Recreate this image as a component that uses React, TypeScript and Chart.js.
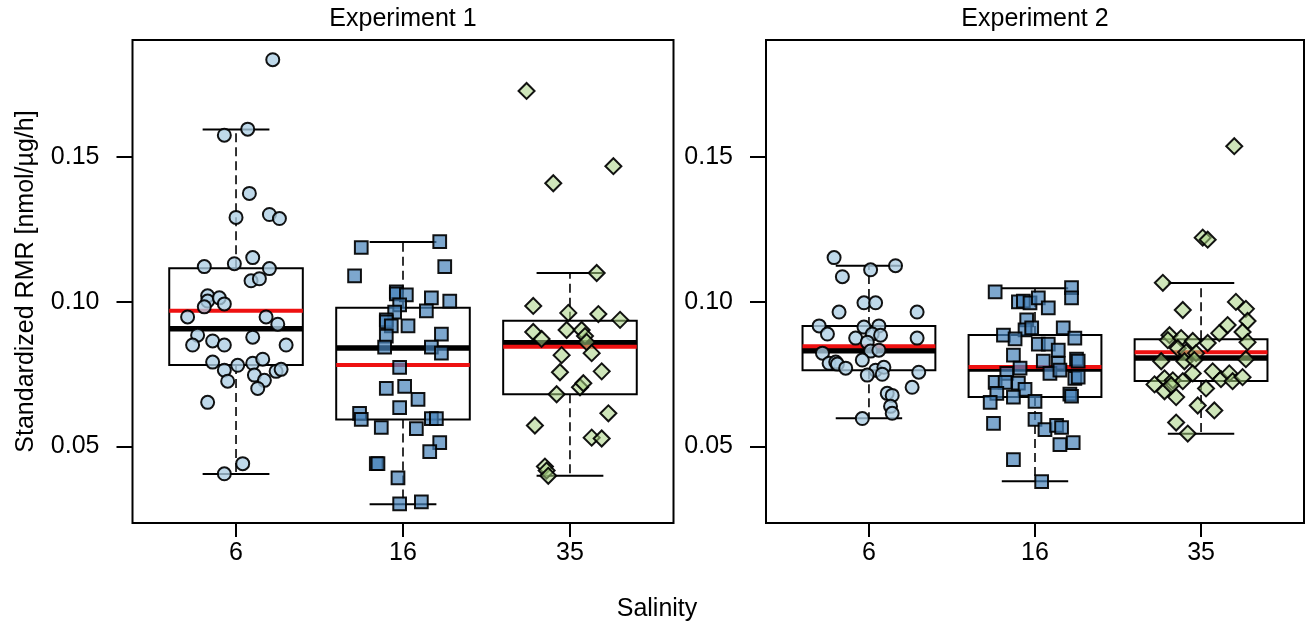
import React, { useEffect, useRef } from 'react';
import { Chart, registerables } from 'chart.js';

Chart.register(...registerables);

// ---------- labels ----------
const salinityLabels = ['6', '16', '35'];
const categoryPositions = [1, 2, 3];
const yTickValues = [0.05, 0.1, 0.15];
const panelTitles = ['Experiment 1', 'Experiment 2'];
const yAxisTitle = 'Standardized RMR [nmol/µg/h]';
const xAxisTitle = 'Salinity';

// ---------- Experiment 1: individual values and horizontal jitter ----------
const exp1Sal6Values = [0.1837, 0.1576, 0.1597, 0.1375, 0.1292, 0.1302, 0.1288, 0.1153, 0.1122, 0.1132, 0.1115, 0.1073, 0.108, 0.1021, 0.1003, 0.1014, 0.0993, 0.0983, 0.0948, 0.0948, 0.0923, 0.0885, 0.0851, 0.0865, 0.0851, 0.0878, 0.0851, 0.0792, 0.0764, 0.0781, 0.0788, 0.0802, 0.076, 0.0767, 0.0726, 0.0747, 0.0729, 0.0701, 0.0653, 0.0441, 0.0406];
const exp1Sal6Jitter = [0.22, -0.07, 0.07, 0.08, 0.0, 0.2, 0.26, 0.1, -0.19, -0.01, 0.2, 0.09, 0.14, -0.17, -0.17, -0.1, -0.07, -0.19, -0.29, 0.18, 0.25, -0.23, -0.26, -0.14, -0.07, 0.1, 0.3, -0.14, -0.07, 0.01, 0.1, 0.16, 0.24, 0.27, -0.05, 0.11, 0.17, 0.13, -0.17, 0.04, -0.07];

const exp1Sal16Values = [0.1188, 0.1208, 0.109, 0.1122, 0.1035, 0.1028, 0.1024, 0.099, 0.1014, 0.1003, 0.0969, 0.0965, 0.0938, 0.0931, 0.0917, 0.0917, 0.0882, 0.0889, 0.0844, 0.0844, 0.0823, 0.0774, 0.0701, 0.0708, 0.0663, 0.0635, 0.0615, 0.0594, 0.0566, 0.0597, 0.0597, 0.0562, 0.0514, 0.0483, 0.0441, 0.0441, 0.0392, 0.0302, 0.0309];
const exp1Sal16Jitter = [-0.25, 0.22, -0.29, 0.25, -0.04, -0.04, 0.02, -0.02, 0.17, 0.28, 0.14, -0.05, -0.1, -0.1, -0.07, 0.03, -0.1, 0.23, -0.11, 0.17, 0.23, -0.02, -0.1, 0.01, 0.09, -0.02, -0.26, -0.25, -0.13, 0.17, 0.2, 0.08, 0.22, 0.16, -0.16, -0.15, -0.03, -0.02, 0.11];

const exp1Sal35Values = [0.1729, 0.1469, 0.141, 0.11, 0.0986, 0.0962, 0.0958, 0.0938, 0.0896, 0.0872, 0.0903, 0.0903, 0.0882, 0.0861, 0.0816, 0.0823, 0.0757, 0.076, 0.0705, 0.0719, 0.0681, 0.0615, 0.0573, 0.0531, 0.0528, 0.0431, 0.0417, 0.0399];
const exp1Sal35Jitter = [-0.26, 0.26, -0.1, 0.16, -0.22, -0.01, 0.17, 0.3, -0.22, -0.17, -0.02, 0.07, 0.09, 0.1, -0.05, 0.13, -0.06, 0.19, 0.06, 0.08, -0.08, 0.23, -0.21, 0.13, 0.19, -0.15, -0.14, -0.13];

// ---------- Experiment 2 ----------
const exp2Sal6Values = [0.1153, 0.1125, 0.1111, 0.1087, 0.0997, 0.0997, 0.0965, 0.0965, 0.0917, 0.0913, 0.0917, 0.0889, 0.0875, 0.0889, 0.0885, 0.0875, 0.0861, 0.083, 0.0833, 0.0823, 0.0788, 0.0792, 0.0785, 0.0771, 0.0799, 0.0764, 0.0774, 0.0747, 0.075, 0.0757, 0.0705, 0.0684, 0.0677, 0.0639, 0.0615, 0.0597];
const exp2Sal6Jitter = [-0.21, 0.16, 0.01, -0.16, -0.03, 0.04, -0.18, 0.29, -0.3, -0.03, 0.06, -0.25, -0.08, 0.02, 0.07, 0.29, -0.01, 0.01, 0.06, -0.28, -0.24, -0.2, -0.19, -0.14, -0.04, 0.04, 0.09, -0.01, 0.08, 0.3, 0.26, 0.11, 0.14, 0.13, 0.14, -0.04];

const exp2Sal16Values = [0.1035, 0.1049, 0.1014, 0.1, 0.1003, 0.0997, 0.1014, 0.0979, 0.0938, 0.0903, 0.091, 0.0885, 0.0872, 0.091, 0.0875, 0.0854, 0.0854, 0.0833, 0.0816, 0.0795, 0.0788, 0.0802, 0.0795, 0.0771, 0.0753, 0.0764, 0.0753, 0.0722, 0.0722, 0.0719, 0.0698, 0.0736, 0.074, 0.0684, 0.0671, 0.0681, 0.0674, 0.0653, 0.0656, 0.058, 0.0594, 0.0559, 0.0573, 0.0566, 0.0507, 0.0514, 0.0455, 0.0379];
const exp2Sal16Jitter = [-0.24, 0.22, 0.22, -0.1, -0.07, -0.03, 0.02, 0.08, -0.05, -0.06, -0.02, -0.19, -0.12, 0.17, 0.24, 0.02, 0.08, 0.14, -0.13, 0.05, 0.14, 0.25, 0.26, -0.09, 0.09, 0.15, -0.17, -0.24, -0.18, -0.1, -0.06, 0.24, 0.26, -0.23, -0.13, 0.21, 0.22, -0.27, 0.0, -0.25, 0.0, 0.06, 0.13, 0.16, 0.15, 0.23, -0.13, 0.04];

const exp2Sal35Values = [0.1538, 0.1222, 0.1215, 0.1066, 0.1, 0.0976, 0.0972, 0.0934, 0.092, 0.0892, 0.0896, 0.0885, 0.0868, 0.0875, 0.0865, 0.0858, 0.0861, 0.084, 0.0826, 0.0823, 0.0795, 0.0795, 0.0799, 0.0802, 0.0753, 0.076, 0.0715, 0.0736, 0.0729, 0.0726, 0.0733, 0.0753, 0.0726, 0.074, 0.0691, 0.0671, 0.0712, 0.0701, 0.0642, 0.0625, 0.0583, 0.0545];
const exp2Sal35Jitter = [0.2, 0.01, 0.04, -0.23, 0.21, 0.27, -0.11, 0.28, 0.16, 0.11, 0.25, -0.19, -0.2, -0.12, -0.05, 0.04, 0.28, -0.14, -0.09, -0.03, -0.24, -0.1, -0.04, 0.27, -0.05, 0.07, -0.28, -0.22, -0.17, -0.11, 0.12, 0.17, 0.19, 0.25, -0.22, -0.15, -0.18, 0.03, -0.02, 0.08, -0.15, -0.08];

// ---------- box statistics (per salinity 6, 16, 35) ----------
const exp1LowerWhisker = [0.0405, 0.0301, 0.0399];
const exp1Q1 = [0.0782, 0.0594, 0.0681];
const exp1Median = [0.0907, 0.0841, 0.0859];
const exp1Mean = [0.0969, 0.0782, 0.0845];
const exp1Q3 = [0.1116, 0.098, 0.0935];
const exp1UpperWhisker = [0.1596, 0.1207, 0.11];

const exp2LowerWhisker = [0.0598, 0.038, 0.0544];
const exp2Q1 = [0.0764, 0.0671, 0.0727];
const exp2Median = [0.0831, 0.0768, 0.0806];
const exp2Mean = [0.0847, 0.0775, 0.0826];
const exp2Q3 = [0.0917, 0.0886, 0.0871];
const exp2UpperWhisker = [0.1125, 0.1047, 0.1065];

// ---------- styles ----------
const FONT = '"Liberation Sans", Arial, sans-serif';
const FONT_SIZE = 25;
const BOX_HALF = 0.4;
const CAP_HALF = 0.2;
const Y_MIN = 0.0236;
const Y_MAX = 0.1905;
const X_MIN = 0.38;
const X_MAX = 3.62;

const markerStyles = [
  { pointStyle: 'circle', radius: 6.5, fill: 'rgba(173,206,228,0.78)' },
  { pointStyle: 'rect', radius: 9, fill: 'rgba(70,130,185,0.7)' },
  { pointStyle: 'rectRot', radius: 8, fill: 'rgba(167,209,129,0.55)' },
];

const panels = [
  {
    title: panelTitles[0],
    values: [exp1Sal6Values, exp1Sal16Values, exp1Sal35Values],
    jitter: [exp1Sal6Jitter, exp1Sal16Jitter, exp1Sal35Jitter],
    lw: exp1LowerWhisker, q1: exp1Q1, med: exp1Median, mean: exp1Mean, q3: exp1Q3, uw: exp1UpperWhisker,
    yAxisWidth: 132.5, padRight: 1315 - 673.5, showYTitle: true, showXTitle: false,
  },
  {
    title: panelTitles[1],
    values: [exp2Sal6Values, exp2Sal16Values, exp2Sal35Values],
    jitter: [exp2Sal6Jitter, exp2Sal16Jitter, exp2Sal35Jitter],
    lw: exp2LowerWhisker, q1: exp2Q1, med: exp2Median, mean: exp2Mean, q3: exp2Q3, uw: exp2UpperWhisker,
    yAxisWidth: 766, padRight: 1315 - 1307, showYTitle: false, showXTitle: true,
  },
];

function buildDatasets(p: any) {
  const box: any[] = [];
  const whisk: any[] = [];
  const caps: any[] = [];
  const med: any[] = [];
  const mean: any[] = [];
  categoryPositions.forEach((c, i) => {
    box.push(
      { x: c - BOX_HALF, y: p.q1[i] }, { x: c + BOX_HALF, y: p.q1[i] },
      { x: c + BOX_HALF, y: p.q3[i] }, { x: c - BOX_HALF, y: p.q3[i] },
      { x: c - BOX_HALF, y: p.q1[i] }, { x: c, y: null },
    );
    whisk.push(
      { x: c, y: p.q3[i] }, { x: c, y: p.uw[i] }, { x: c, y: null },
      { x: c, y: p.q1[i] }, { x: c, y: p.lw[i] }, { x: c, y: null },
    );
    caps.push(
      { x: c - CAP_HALF, y: p.uw[i] }, { x: c + CAP_HALF, y: p.uw[i] }, { x: c, y: null },
      { x: c - CAP_HALF, y: p.lw[i] }, { x: c + CAP_HALF, y: p.lw[i] }, { x: c, y: null },
    );
    med.push({ x: c - BOX_HALF, y: p.med[i] }, { x: c + BOX_HALF, y: p.med[i] }, { x: c, y: null });
    mean.push({ x: c - BOX_HALF, y: p.mean[i] }, { x: c + BOX_HALF, y: p.mean[i] }, { x: c, y: null });
  });
  const lineBase = { showLine: true, pointRadius: 0, fill: false, spanGaps: false };
  const ds: any[] = [
    { ...lineBase, data: whisk, borderColor: 'black', borderWidth: 1.6, borderDash: [9, 5], order: 5 },
    { ...lineBase, data: caps, borderColor: 'black', borderWidth: 2, order: 4 },
    { ...lineBase, data: box, borderColor: 'black', borderWidth: 2, borderJoinStyle: 'miter', borderCapStyle: 'square', order: 3 },
    { ...lineBase, data: med, borderColor: 'black', borderWidth: 5.5, borderCapStyle: 'butt', order: 2 },
    { ...lineBase, data: mean, borderColor: '#ee1111', borderWidth: 4, borderCapStyle: 'butt', order: 1 },
  ];
  categoryPositions.forEach((c, i) => {
    const m = markerStyles[i];
    ds.push({
      data: p.values[i].map((v: number, k: number) => ({ x: c + p.jitter[i][k], y: v })),
      showLine: false,
      pointStyle: m.pointStyle,
      pointRadius: m.radius,
      pointBackgroundColor: m.fill,
      pointBorderColor: 'rgba(0,0,0,0.92)',
      pointBorderWidth: 2,
      order: 0,
    });
  });
  return ds;
}

const framePlugin = {
  id: 'panelFrame',
  afterDraw(chart: any, _args: any, opts: any) {
    const { ctx, chartArea: a } = chart;
    ctx.save();
    ctx.strokeStyle = 'black';
    ctx.lineWidth = 2;
    ctx.strokeRect(a.left, a.top, a.right - a.left, a.bottom - a.top);
    ctx.fillStyle = 'black';
    ctx.font = `${FONT_SIZE}px ${FONT}`;
    ctx.textAlign = 'center';
    ctx.textBaseline = 'middle';
    ctx.fillText(opts.title, (a.left + a.right) / 2, 19);
    if (opts.xTitle) ctx.fillText(opts.xTitle, 657, 609);
    ctx.restore();
  },
};

function makeConfig(p: any): any {
  return {
    type: 'scatter',
    data: { datasets: buildDatasets(p) },
    plugins: [framePlugin],
    options: {
      animation: false,
      responsive: false,
      maintainAspectRatio: false,
      devicePixelRatio: 1,
      events: [],
      layout: { padding: { top: 40, right: p.padRight, left: 0, bottom: 0 } },
      plugins: {
        legend: { display: false },
        tooltip: { enabled: false },
        panelFrame: { title: p.title, xTitle: p.showXTitle ? xAxisTitle : '' },
      },
      scales: {
        x: {
          type: 'linear',
          position: 'bottom',
          min: X_MIN,
          max: X_MAX,
          afterBuildTicks: (axis: any) => {
            axis.ticks = categoryPositions.map((v) => ({ value: v }));
          },
          afterFit: (s: any) => { s.height = 105; },
          border: { display: false },
          grid: { drawOnChartArea: false, drawTicks: true, tickLength: 14, lineWidth: 2, color: 'black' },
          ticks: {
            color: 'black',
            font: { family: FONT, size: FONT_SIZE },
            padding: 1,
            maxRotation: 0,
            autoSkip: false,
            callback: (v: number) => {
              const idx = categoryPositions.indexOf(v);
              return idx >= 0 ? salinityLabels[idx] : '';
            },
          },
        },
        y: {
          type: 'linear',
          position: 'left',
          min: Y_MIN,
          max: Y_MAX,
          afterBuildTicks: (axis: any) => {
            axis.ticks = yTickValues.map((v) => ({ value: v }));
          },
          afterFit: (s: any) => { s.width = p.yAxisWidth; },
          border: { display: false },
          grid: { drawOnChartArea: false, drawTicks: true, tickLength: 16, lineWidth: 2, color: 'black' },
          ticks: {
            color: 'black',
            font: { family: FONT, size: FONT_SIZE },
            padding: 17,
            callback: (v: number) => v.toFixed(2),
          },
          title: {
            display: p.showYTitle,
            text: yAxisTitle,
            color: 'black',
            font: { family: FONT, size: FONT_SIZE },
            padding: { top: 11, bottom: 0 },
          },
        },
      },
    },
  };
}

export default function App() {
  const ref1 = useRef<HTMLCanvasElement>(null);
  const ref2 = useRef<HTMLCanvasElement>(null);
  useEffect(() => {
    const c1 = new Chart(ref1.current as HTMLCanvasElement, makeConfig(panels[0]));
    const c2 = new Chart(ref2.current as HTMLCanvasElement, makeConfig(panels[1]));
    return () => {
      c1.destroy();
      c2.destroy();
    };
  }, []);
  const cs: React.CSSProperties = { position: 'absolute', left: 0, top: 0, width: 1315, height: 628, display: 'block' };
  return (
    <div style={{ position: 'absolute', left: 0, top: 0, width: 1315, height: 628, background: 'white', overflow: 'hidden' }}>
      <canvas ref={ref1} width={1315} height={628} style={cs} />
      <canvas ref={ref2} width={1315} height={628} style={cs} />
    </div>
  );
}
